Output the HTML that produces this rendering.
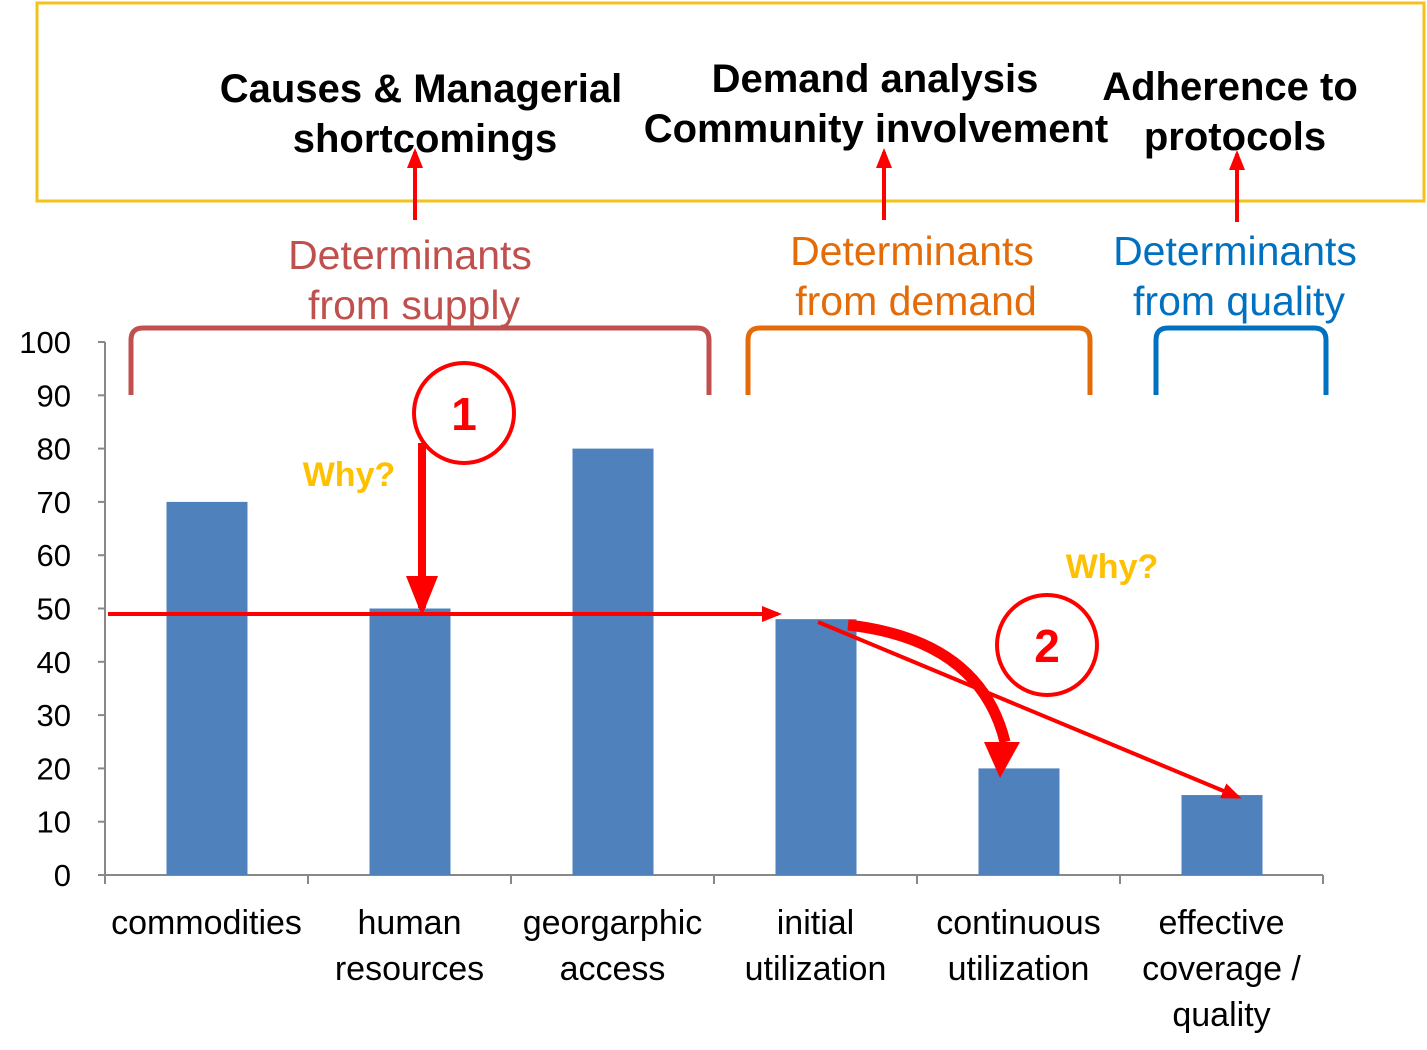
<!DOCTYPE html>
<html><head><meta charset="utf-8"><style>
body{margin:0;background:#fff;}
svg{display:block;font-family:"Liberation Sans",sans-serif;}
</style></head><body>
<svg id="chart" width="1427" height="1050">
<defs>
<marker id="ahs" markerWidth="5" markerHeight="4" refX="4" refY="2" orient="auto" markerUnits="strokeWidth"><path d="M0,0 L5,2 L0,4z" fill="#f00"/></marker>
</defs>
<rect x="37" y="3" width="1387" height="198" fill="none" stroke="#f5c21b" stroke-width="3"/>
<g font-weight="bold" font-size="40" text-anchor="middle" fill="#000">
<text x="421" y="102">Causes &amp; Managerial</text>
<text x="425" y="152">shortcomings</text>
<text x="875" y="92">Demand analysis</text>
<text x="876" y="142">Community involvement</text>
<text x="1230" y="100">Adherence to</text>
<text x="1235" y="150">protocols</text>
</g>
<g stroke="#f00" stroke-width="4" marker-end="url(#ahs)">
<line x1="415" y1="220" x2="415" y2="152"/><line x1="884" y1="220" x2="884" y2="152"/><line x1="1237" y1="222" x2="1237" y2="154"/>
</g>
<g font-size="41" text-anchor="middle">
<text x="410" y="269" fill="#c0504d">Determinants</text>
<text x="414" y="319" fill="#c0504d">from supply</text>
<text x="912" y="265" fill="#e36c09">Determinants</text>
<text x="916" y="315" fill="#e36c09">from demand</text>
<text x="1235" y="265" fill="#0070c0">Determinants</text>
<text x="1239" y="315" fill="#0070c0">from quality</text>
</g>
<g fill="none" stroke-width="5">
<path d="M131,395 V340 Q131,328 143,328 H697 Q709,328 709,340 V395" stroke="#c0504d"/>
<path d="M748,395 V340 Q748,328 760,328 H1078 Q1090,328 1090,340 V395" stroke="#e36c09"/>
<path d="M1156,395 V340 Q1156,328 1168,328 H1314 Q1326,328 1326,340 V395" stroke="#0070c0"/>
</g>
<g id="axes"></g>
<g id="bars"></g>
<g id="overlay">
<line x1="108" y1="614" x2="778" y2="614" stroke="#f00" stroke-width="4" marker-end="url(#ahs)"/>
<line x1="422" y1="443" x2="422" y2="608" stroke="#f00" stroke-width="8" marker-end="url(#ahs)"/>
<line x1="818" y1="622" x2="1238" y2="797" stroke="#f00" stroke-width="4" marker-end="url(#ahs)"/>
<path d="M848,625 Q980,640 1005,742" fill="none" stroke="#f00" stroke-width="11"/>
<path d="M984,742 L1020,742 L1000,778z" fill="#f00"/>
<circle cx="464" cy="413" r="50" fill="none" stroke="#f00" stroke-width="4"/>
<text x="464" y="430" font-size="46" font-weight="bold" fill="#f00" text-anchor="middle">1</text>
<circle cx="1047" cy="645" r="50" fill="none" stroke="#f00" stroke-width="4"/>
<text x="1047" y="662" font-size="46" font-weight="bold" fill="#f00" text-anchor="middle">2</text>
<text x="349" y="486" font-size="34" font-weight="bold" fill="#ffc000" text-anchor="middle">Why?</text>
<text x="1112" y="578" font-size="34" font-weight="bold" fill="#ffc000" text-anchor="middle">Why?</text>
</g>
</svg>
<script>
const categories=[["commodities"],["human","resources"],["georgarphic","access"],["initial","utilization"],["continuous","utilization"],["effective","coverage /","quality"]];
const values=[70,50,80,48,20,15];
const yTicks=[0,10,20,30,40,50,60,70,80,90,100];
const NS="http://www.w3.org/2000/svg";
const x0=105,x1=1323,y0=875,y1=342;
const band=(x1-x0)/categories.length;
const xc=i=>x0+band*(i+0.5);
const y=v=>y0-(v/100)*(y0-y1);
function mk(t,a,p){const e=document.createElementNS(NS,t);for(const k in a)e.setAttribute(k,a[k]);p.appendChild(e);return e;}
const ax=document.getElementById('axes'),bg=document.getElementById('bars');
let e=mk('line',{x1:x0,y1:y(0),x2:x0,y2:y(100),stroke:'#888','stroke-width':2},ax);


e=mk('line',{x1:x0,y1:y0,x2:x1,y2:y0,stroke:'#888','stroke-width':2},ax);


yTicks.forEach(v=>{
 mk('line',{x1:x0-7,y1:y(v),x2:x0,y2:y(v),stroke:'#888','stroke-width':2},ax);
 const t=mk('text',{x:71,y:y(v)+11,'font-size':31,'text-anchor':'end',fill:'#000'},ax);t.textContent=v;
 
 
});
for(let i=0;i<=categories.length;i++)mk('line',{x1:x0+band*i,y1:y0,x2:x0+band*i,y2:y0+9,stroke:'#888','stroke-width':2},ax);
categories.forEach((c,i)=>{
 c.forEach((l,j)=>{const t=mk('text',{x:xc(i),y:934+j*46,'font-size':34,'text-anchor':'middle',fill:'#000'},ax);t.textContent=l;
 
 });
 const r=mk('rect',{x:xc(i)-40,y:y(values[i]),width:81,height:y0-y(values[i]),fill:'#4f81bd'},bg);
 
 
});
</script>
</body></html>
